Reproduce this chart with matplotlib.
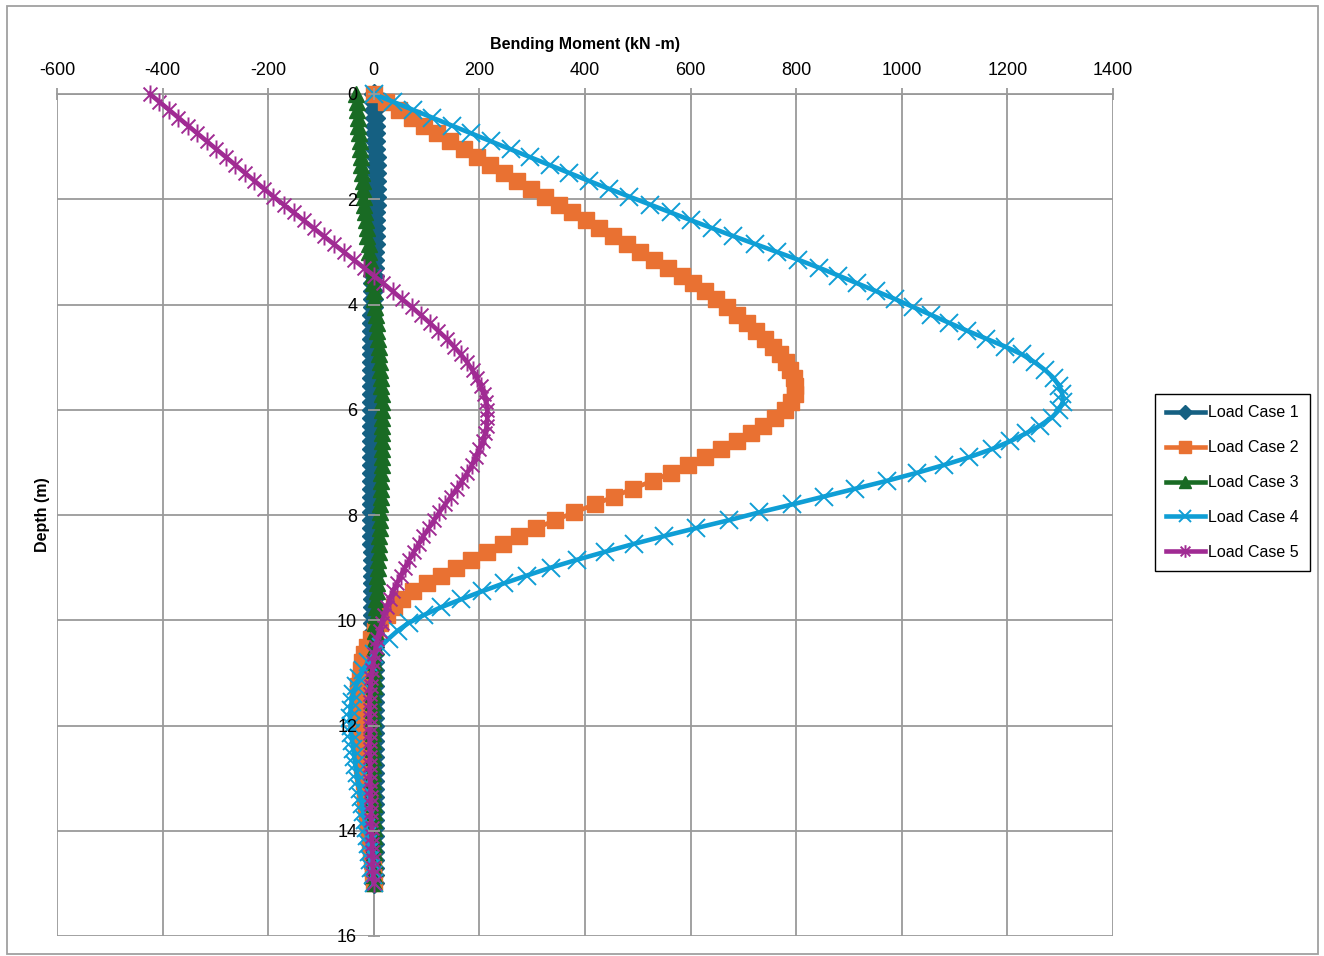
import matplotlib
matplotlib.use("Agg")
import matplotlib.pyplot as plt
import numpy as np
from matplotlib.path import Path
from matplotlib.patches import Rectangle

plt.rcParams['font.family'] = ['Liberation Sans', 'DejaVu Sans']
plt.rcParams['axes.unicode_minus'] = False

# depth below pile head (m), 0.15 m steps
depth = np.round(np.arange(101) * 0.15, 2)

# bending moment (kN-m) per load case
lc1 = [0, 1, 1, 2, 2, 3, 3, 3, 4, 4,
       4, 4, 4, 4, 4, 3, 3, 3, 2, 2,
       1, 1, 0, 0, -1, -1, -2, -2, -3, -3,
       -3, -4, -4, -4, -4, -4, -4, -4, -4, -4,
       -4, -4, -4, -4, -4, -4, -4, -4, -4, -4,
       -4, -4, -3, -3, -3, -3, -3, -3, -2, -2,
       -2, -2, -2, -1, -1, -1, -1, -1, 0, 0,
       0, 0, 0, 0, 0, 0, 0, 0, 0, 0,
       0, 0, 0, 0, 0, 0, 0, 0, 0, 0,
       0, 0, 0, 0, 0, 0, 0, 0, 0, 0, 0]
lc2 = [0, 24, 48, 72, 96, 120, 145, 170, 195, 220,
       246, 272, 298, 324, 350, 376, 401, 427, 453, 479,
       505, 531, 557, 583, 605, 627, 648, 668, 688, 706,
       724, 741, 756, 769, 780, 789, 795, 798, 797, 790,
       778, 760, 738, 714, 687, 658, 628, 596, 563, 528,
       491, 455, 418, 380, 343, 308, 275, 244, 214, 184,
       155, 127, 100, 75, 54, 38, 25, 12, 2, -6,
       -13, -18, -22, -25, -27, -29, -30, -30, -30, -29,
       -28, -27, -26, -25, -23, -22, -20, -19, -17, -16,
       -14, -13, -11, -10, -8, -7, -5, -4, -2, -1, 0]
lc3 = [-33, -32, -31, -30, -29, -28, -27, -26, -25, -24,
       -23, -21, -20, -19, -18, -16, -15, -13, -12, -10,
       -9, -7, -5, -4, -2, 0, 1, 3, 4, 6,
       7, 8, 9, 10, 11, 12, 13, 14, 15, 15,
       16, 16, 16, 16, 16, 15, 15, 15, 14, 14,
       13, 13, 12, 12, 11, 11, 10, 10, 9, 8,
       8, 7, 6, 6, 5, 4, 4, 3, 3, 2,
       2, 1, 1, 0, 0, 0, -1, -1, -1, -1,
       -1, -1, -1, -1, -1, -1, -1, -1, -1, -1,
       0, 0, 0, 0, 0, 0, 0, 0, 0, 0, 0]
lc4 = [0, 37, 74, 111, 148, 185, 222, 259, 296, 333,
       370, 407, 445, 484, 523, 562, 601, 641, 681, 722,
       763, 804, 843, 880, 916, 952, 988, 1022, 1056, 1090,
       1124, 1160, 1196, 1228, 1252, 1272, 1288, 1298, 1304, 1305,
       1298, 1284, 1262, 1235, 1205, 1170, 1128, 1080, 1028, 972,
       912, 852, 792, 730, 672, 610, 550, 492, 438, 385,
       335, 290, 246, 205, 166, 128, 95, 66, 45, 28,
       13, 0, -11, -20, -28, -34, -39, -42, -44, -45,
       -44, -43, -41, -39, -37, -35, -32, -30, -27, -25,
       -22, -20, -17, -15, -13, -11, -9, -7, -5, -2, 0]
lc5 = [-424, -406, -388, -370, -352, -334, -316, -298, -280, -262,
       -244, -226, -208, -190, -171, -152, -133, -114, -95, -76,
       -57, -38, -19, 0, 18, 36, 54, 72, 89, 106,
       122, 138, 152, 165, 177, 187, 195, 203, 209, 213,
       215, 215, 214, 211, 206, 200, 193, 186, 177, 167,
       157, 146, 135, 124, 114, 104, 94, 85, 76, 67,
       59, 51, 44, 37, 31, 25, 20, 15, 11, 7,
       4, 1, -1, -3, -5, -6, -7, -8, -8, -8,
       -8, -8, -8, -8, -7, -7, -7, -7, -6, -6,
       -6, -5, -5, -4, -4, -3, -3, -2, -2, -1, 0]

labels = ['Load Case 1', 'Load Case 2', 'Load Case 3', 'Load Case 4', 'Load Case 5']
x_ticks = [-600, -400, -200, 0, 200, 400, 600, 800, 1000, 1200, 1400]
y_ticks = [0, 2, 4, 6, 8, 10, 12, 14, 16]

# x with a vertical bar through it
star = Path([(-1, -1), (1, 1), (-1, 1), (1, -1), (0, -1.3), (0, 1.3)],
            [Path.MOVETO, Path.LINETO, Path.MOVETO, Path.LINETO, Path.MOVETO, Path.LINETO])

styles = [
    dict(color='#156082', marker='D', ms=10.5),
    dict(color='#E97132', marker='s', ms=12),
    dict(color='#196B24', marker='^', ms=12),
    dict(color='#0F9ED5', marker='x', ms=13, mew=1.4),
    dict(color='#A02B93', marker=star, ms=13, mew=1.4),
]

fig = plt.figure(figsize=(13.24, 9.56), dpi=100)
ax = fig.add_axes([57 / 1324, 1 - 936 / 956, 1056 / 1324, 842 / 956])

grid_c = '#9a9a9a'
for x in x_ticks:
    ax.axvline(x, color=grid_c, lw=1.3, zorder=0.5)
for y in y_ticks:
    ax.axhline(y, color=grid_c, lw=1.3, zorder=0.5)

for vals, lab, st in zip([lc1, lc2, lc3, lc4, lc5], labels, styles):
    ax.plot(vals, depth, label=lab, lw=3.3, clip_on=False, **st)

ax.set_xlim(-600, 1400)
ax.set_ylim(16, 0)
ax.set_xticks(x_ticks)
ax.set_yticks(y_ticks)

ax.xaxis.tick_top()
ax.xaxis.set_label_position('top')
ax.spines['left'].set_position(('data', 0))
ax.spines['right'].set_visible(False)
ax.spines['bottom'].set_visible(False)
for s in ('left', 'top'):
    ax.spines[s].set_color(grid_c)
    ax.spines[s].set_linewidth(1.3)
    ax.spines[s].set_zorder(1)
ax.xaxis.set_zorder(4)
ax.yaxis.set_zorder(4)

ax.tick_params(axis='both', direction='inout', length=8, width=1.3, color=grid_c,
               labelsize=13, labelcolor='black')
ax.tick_params(axis='x', pad=7)
ax.tick_params(axis='y', pad=8)

ax.set_xlabel('Bending Moment (kN -m)', fontsize=11.5, fontweight='bold', labelpad=9)
ax.set_ylabel('Depth (m)', fontsize=11.5, fontweight='bold')
ax.yaxis.set_label_coords(-0.0066, 0.5)

leg = ax.legend(loc='upper left', bbox_to_anchor=(1155 / 1324, 1 - 394 / 956),
                bbox_transform=fig.transFigure, borderaxespad=0, fontsize=11.5,
                frameon=True, fancybox=False, edgecolor='black', framealpha=1,
                markerscale=0.7, handlelength=2.4, handletextpad=0.2,
                labelspacing=1.25, borderpad=0.7)
leg.get_frame().set_linewidth(1.0)

fig.patches.append(Rectangle((7 / 1324, 1 - 954 / 956), 1311 / 1324, 948 / 956,
                             transform=fig.transFigure, fill=False,
                             edgecolor='#a0a0a0', lw=1.3))

fig.savefig('out.png', dpi=100)
